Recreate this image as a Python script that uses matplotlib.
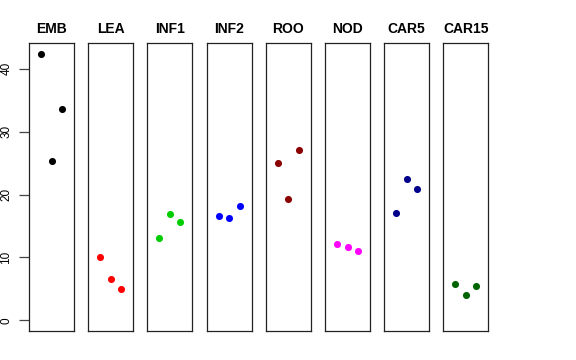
import matplotlib
matplotlib.use("Agg")
import matplotlib.pyplot as plt

plt.rcParams["font.family"] = ["Liberation Sans", "DejaVu Sans"]

# tissue groups, three replicates each
groups = ["EMB", "LEA", "INF1", "INF2", "ROO", "NOD", "CAR5", "CAR15"]
colors = ["black", "red", "#00CD00", "blue", "#8B0000", "magenta", "#00008B", "#006400"]
emb = [42.4, 25.3, 33.6]
lea = [10.1, 6.5, 5.0]
inf1 = [13.1, 16.9, 15.7]
inf2 = [16.6, 16.3, 18.1]
roo = [25.0, 19.3, 27.1]
nod = [12.2, 11.7, 11.1]
car5 = [17.0, 22.4, 20.9]
car15 = [5.8, 4.0, 5.5]
values = [emb, lea, inf1, inf2, roo, nod, car5, car15]
yticks = [0, 10, 20, 30, 40]

W, H = 576, 360
fig = plt.figure(figsize=(W / 100, H / 100), dpi=100)

ymax = max(max(v) for v in values)
pad = 0.04 * ymax
left0, step, width = 29, 59.2, 45
top, bottom = 43, 331

for i, (name, col, vals) in enumerate(zip(groups, colors, values)):
    x0 = left0 + i * step
    ax = fig.add_axes([x0 / W, (H - bottom) / H, width / W, (bottom - top) / H])
    ax.scatter([1, 2, 3], vals, s=26, color=col, zorder=3, linewidths=0)
    ax.set_xlim(-0.16, 4.16)
    ax.set_ylim(-pad, ymax + pad)
    ax.set_xticks([])
    ax.set_title(name, fontsize=10, fontweight="bold", pad=7)
    for sp in ax.spines.values():
        sp.set_linewidth(0.9)
        sp.set_color("#222222")
    if i == 0:
        ax.set_yticks(yticks)
        ax.set_yticklabels([str(t) for t in yticks], rotation=90, va="center", fontsize=8.5)
        ax.tick_params(axis="y", length=7, width=0.9, pad=5, color="#444444")
    else:
        ax.set_yticks([])

fig.savefig("out.png", dpi=100)
